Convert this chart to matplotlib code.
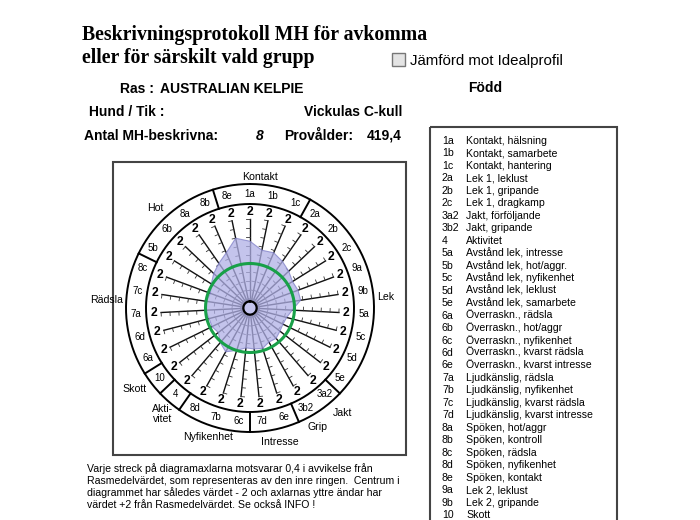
import numpy as np
import matplotlib.pyplot as plt
from matplotlib.patches import Rectangle

plt.rcParams['font.family'] = ['Liberation Sans', 'DejaVu Sans']

# spokes, clockwise from the top
ring_codes = ['1a', '1b', '1c', '2a', '2b', '2c', '9a', '9b', '5a', '5c', '5d', '5e',
              '3a2', '3b2', '6e', '7d', '6c', '7b', '8d', '4', '10', '6a', '6d', '7a',
              '7c', '8c', '5b', '6b', '8a', '8b', '8e']
# deviation from breed mean (-2 .. +2)
values = [1.0, 0.65, 0.7, 0.55, 0.4, 0.25, 0.3, 0.3, -0.1, -0.3, -0.35, -0.3,
          -0.2, -0.25, -0.1, -0.15, -0.2, 0.0, 0.25, 0.05, -0.2, -0.1, -0.1, 0.0,
          0.0, -0.1, 0.05, 0.25, 0.45, 0.7, 1.2]

# first code of every sector in the outer ring
sector_starts = ['8e', '2a', '3a2', '6e', '6c', '4', '10', '6a', '5b']
group_labels = ['Kontakt', 'Lek', 'Jakt', 'Grip', 'Intresse', 'Nyfikenhet',
                'Akti-\nvitet', 'Skott', 'Rädsla', 'Hot']
group_angles = [4.4, 85.3, 138.8, 150.3, 167.4, 198, 219.6, 234.8, 273.2, 316.5]
group_radii = [131, 136, 140, 137, 137, 136, 137, 141, 144, 138]

legend_codes = ['1a', '1b', '1c', '2a', '2b', '2c', '3a2', '3b2', '4', '5a', '5b',
                '5c', '5d', '5e', '6a', '6b', '6c', '6d', '6e', '7a', '7b', '7c',
                '7d', '8a', '8b', '8c', '8d', '8e', '9a', '9b', '10']
legend_text = ['Kontakt, hälsning', 'Kontakt, samarbete', 'Kontakt, hantering',
               'Lek 1, leklust', 'Lek 1, gripande', 'Lek 1, dragkamp',
               'Jakt, förföljande', 'Jakt, gripande', 'Aktivitet',
               'Avstånd lek, intresse', 'Avstånd lek, hot/aggr.',
               'Avstånd lek, nyfikenhet', 'Avstånd lek, leklust',
               'Avstånd lek, samarbete', 'Överraskn., rädsla', 'Överraskn., hot/aggr',
               'Överraskn., nyfikenhet', 'Överraskn., kvarst rädsla',
               'Överraskn., kvarst intresse', 'Ljudkänslig, rädsla',
               'Ljudkänslig, nyfikenhet', 'Ljudkänslig, kvarst rädsla',
               'Ljudkänslig, kvarst intresse', 'Spöken, hot/aggr', 'Spöken, kontroll',
               'Spöken, rädsla', 'Spöken, nyfikenhet', 'Spöken, kontakt',
               'Lek 2, leklust', 'Lek 2, gripande', 'Skott']

note = ("Varje streck på diagramaxlarna motsvarar 0,4 i avvikelse från\n"
        "Rasmedelvärdet, som representeras av den inre ringen.  Centrum i\n"
        "diagrammet har således värdet - 2 och axlarnas yttre ändar har\n"
        "värdet +2 från Rasmedelvärdet. Se också INFO !")

fig = plt.figure(figsize=(7, 5.2), dpi=100)

# background axes in pixel units for the form text
bg = fig.add_axes([0, 0, 1, 1])
bg.set_xlim(0, 700)
bg.set_ylim(520, 0)
bg.axis('off')

bg.text(82, 40, 'Beskrivningsprotokoll MH för avkomma', family='Liberation Serif',
        weight='bold', fontsize=14.2, va='baseline')
bg.text(82, 63, 'eller för särskilt vald grupp', family='Liberation Serif',
        weight='bold', fontsize=14.2, va='baseline')
bg.add_patch(Rectangle((392, 53), 13, 13, facecolor='#e4e4e4', edgecolor='#777777', lw=1))
bg.text(410, 65, 'Jämförd mot Idealprofil', fontsize=10.8, va='baseline')

bold = dict(weight='bold', fontsize=10, va='baseline')
bg.text(120, 93, 'Ras :', **bold)
bg.text(160, 93, 'AUSTRALIAN KELPIE', **bold)
bg.text(468, 92, 'Född', **bold)
bg.text(89, 116, 'Hund / Tik :', **bold)
bg.text(402, 116, 'Vickulas C-kull', ha='right', **bold)
bg.text(84, 140, 'Antal MH-beskrivna:', **bold)
bg.text(260, 140, '8', ha='center', style='italic', **bold)
bg.text(284, 140, 'Provålder:', **bold)
bg.text(402, 140, '419,4', ha='right', **bold)

# chart frame and legend frame
bg.add_patch(Rectangle((113, 162), 293, 293, fill=False, edgecolor='#444444', lw=1.5))
bg.add_patch(Rectangle((430, 127), 187, 400, fill=False, edgecolor='#444444', lw=1.5))
for i, (c, t) in enumerate(zip(legend_codes, legend_text)):
    y = 144 + i * 12.47
    bg.text(442, y, c, fontsize=7.6, va='baseline')
    bg.text(466, y, t, fontsize=7.6, va='baseline')

bg.text(87, 463, note, fontsize=7.6, va='top', linespacing=1.22)

# radar in a polar axes centred on the chart
px = 89 / 4.0          # pixels per unit
rmax = 150 / px
cx, cy = 250, 308
ax = fig.add_axes([(cx - 150) / 700, (520 - cy - 150) / 520, 300 / 700, 300 / 520],
                  projection='polar')
ax.set_theta_zero_location('N')
ax.set_theta_direction(-1)
ax.set_ylim(0, rmax)
ax.axis('off')
ax.patch.set_visible(False)

n = len(ring_codes)
theta = np.arange(n) * 2 * np.pi / n
step = 2 * np.pi / n
full = np.linspace(0, 2 * np.pi, 400)

r_inner = 104 / px
r_outer = 124 / px

# spokes with tick marks
for th in theta:
    ax.plot([th, th], [0.3, 4], color='#111111', lw=1.0, zorder=2)
    for k in range(1, 11):
        r = 0.4 * k
        L = 0.16
        ax.plot([th, th - np.arctan(L / r)], [r, np.hypot(r, L)],
                color='#333333', lw=0.6, zorder=2)
ax.plot(full, np.full_like(full, 0.3), color='black', lw=1.6, zorder=4)

# profile polygon
r_vals = np.array(values) + 2
ax.fill(np.append(theta, theta[0]), np.append(r_vals, r_vals[0]),
        facecolor='#b0b0e6', alpha=0.75, edgecolor='#8080c8', lw=0.8, zorder=3)

# breed mean ring
ax.plot(full, np.full_like(full, 2.0), color='#18a048', lw=2.2, zorder=5)

# label rings
ax.plot(full, np.full_like(full, r_inner), color='black', lw=1.4)
ax.plot(full, np.full_like(full, r_outer), color='black', lw=1.4)
for code in sector_starts:
    th = theta[ring_codes.index(code)] - step / 2
    ax.plot([th, th], [r_inner, r_outer], color='black', lw=1.4)

for th, code in zip(theta, ring_codes):
    ax.text(th, 96 / px, '2', weight='bold', fontsize=8.8, ha='center', va='center')
    ax.text(th, 114 / px, code, fontsize=7, ha='center', va='center')

for lab, ang, rad in zip(group_labels, group_angles, group_radii):
    ax.text(np.deg2rad(ang), rad / px, lab, fontsize=7.6, ha='center', va='center',
            linespacing=1.0)

plt.savefig('out.png', dpi=100)
